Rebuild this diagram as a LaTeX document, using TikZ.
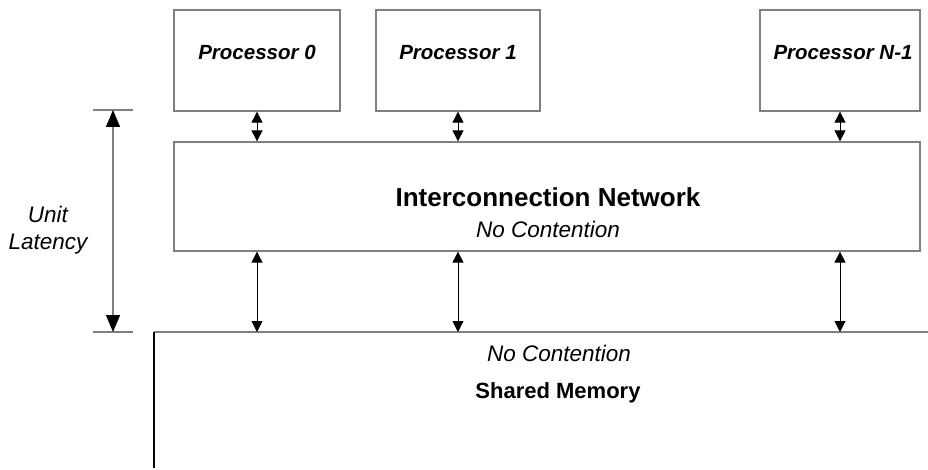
\documentclass[tikz,border=0pt]{standalone}
\usepackage{fontspec}
\setmainfont{Liberation Sans}
\usetikzlibrary{arrows.meta}
\definecolor{boxgray}{RGB}{128,128,128}
\begin{document}
\begin{tikzpicture}[x=1pt,y=-1pt,
  box/.style={draw=boxgray, line width=1.3pt, fill=white, inner sep=0pt},
  txt/.style={inner sep=0pt, anchor=base},
  proclbl/.style={txt, font=\fontsize{20.5}{23}\selectfont\bfseries\itshape},
  titlelbl/.style={txt, font=\fontsize{26}{29}\selectfont\bfseries},
  notelbl/.style={txt, font=\fontsize{22.5}{25}\selectfont\itshape},
  memlbl/.style={txt, font=\fontsize{22}{25}\selectfont\bfseries},
  link/.style={black, line width=0.9pt,
    {Triangle[width=11pt,length=11pt]}-{Triangle[width=11pt,length=11pt]}},
  latency/.style={boxgray, line width=1.3pt,
    {Triangle[width=14pt,length=17pt,color=black]}-{Triangle[width=14pt,length=17pt,color=black]}},
  tick/.style={boxgray, line width=1.3pt}]
\useasboundingbox (0,0) rectangle (928,470);

% processors
\node[box, minimum width=166pt, minimum height=101pt] (p0) at (257,60.5) {};
\node[box, minimum width=164pt, minimum height=101pt] (p1) at (458,60.5) {};
\node[box, minimum width=160pt, minimum height=101pt] (pn) at (840,60.5) {};
\node[proclbl] (p0t) at (257,60) {Processor 0};
\node[proclbl] (p1t) at (458,60) {Processor 1};
\node[proclbl] (pnt) at (843,60) {Processor N-1};

% interconnection network
\node[box, minimum width=746pt, minimum height=109pt] (net) at (547,196.5) {};
\node[titlelbl] (nett) at (548,207) {Interconnection Network};
\node[notelbl] (netn) at (548,237) {No Contention};

% shared memory outline
\coordinate (memtl) at (154,332);
\coordinate (memtr) at (928,332);
\coordinate (membl) at (154,468);
\draw[boxgray, line width=1.3pt] (memtr) -- (memtl);
\draw[black, line width=1.3pt] (memtl) -- (membl);
\node[notelbl] (memn) at (559,361) {No Contention};
\node[memlbl] (memt) at (558,398) {Shared Memory};

% processor <-> network <-> memory links
\foreach \p in {p0,p1,pn} {
  \draw[link] (\p.south) -- (\p.south |- net.north);
  \draw[link] (\p.south |- net.south) -- (\p.south |- memtl);
}

% unit latency dimension
\coordinate (lt) at (113,110);
\coordinate (lb) at (113,332);
\draw[tick] ([xshift=-20pt]lt) -- ([xshift=20pt]lt);
\draw[tick] ([xshift=-20pt]lb) -- ([xshift=20pt]lb);
\draw[latency] (lt) -- (lb);
\node[notelbl] (ul1) at (48,223) {Unit};
\node[notelbl] (ul2) at (48,249) {Latency};
\end{tikzpicture}
\end{document}
